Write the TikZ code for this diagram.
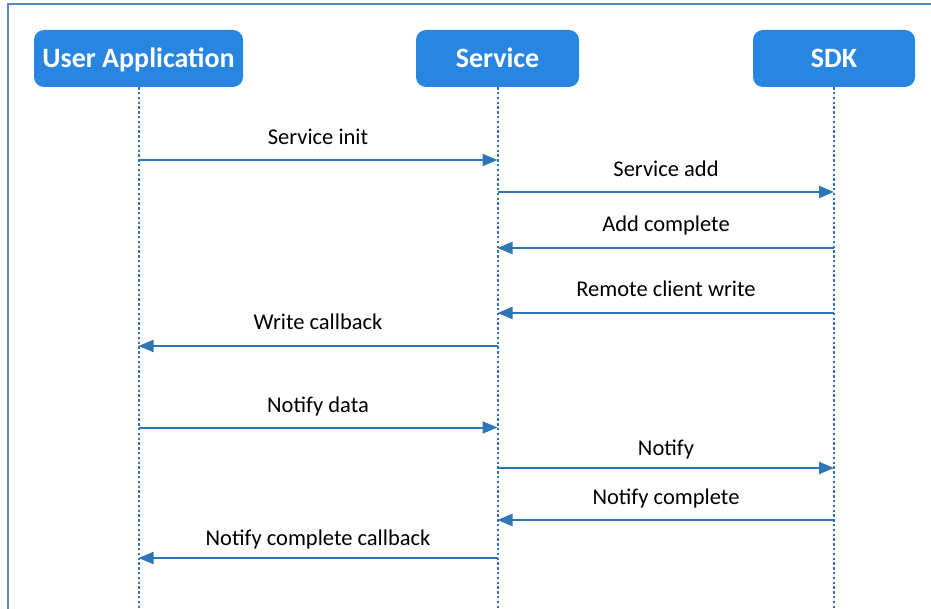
\documentclass[tikz,border=0pt]{standalone}
\usepackage{fontspec}
\setmainfont{Carlito}
\usetikzlibrary{arrows.meta}
\definecolor{boxblue}{HTML}{2986E0}
\definecolor{lineblue}{HTML}{2E75B6}
\definecolor{frameblue}{HTML}{5A8AC6}
\tikzset{
  actor/.style={fill=boxblue, draw=none, rounded corners=10pt, text=white,
    font=\fontsize{28}{30}\selectfont\bfseries, minimum height=57pt, inner sep=0pt,
    text height=19pt, text depth=0pt},
  lifeline/.style={draw=lineblue, line width=2pt, dash pattern=on 2.4pt off 2.4pt},
  msg/.style={draw=lineblue, line width=2pt, -{Triangle[length=15pt,width=12pt]}},
  lbl/.style={font=\fontsize{22.5}{26}\selectfont, anchor=base, inner sep=0pt, text=black}
}
\begin{document}
\begin{tikzpicture}[x=1pt,y=-1pt]
\useasboundingbox (0,0) rectangle (931,609);
\clip (0,0) rectangle (931,609);
\draw[frameblue, line width=1.5pt] (8,4) rectangle (960,640);

\node[actor, minimum width=209pt] (ua) at (138.5,58.5) {User Application};
\node[actor, minimum width=163pt] (sv) at (497.5,58.5) {Service};
\node[actor, minimum width=162pt] (sdk) at (834,58.5) {SDK};

\coordinate (uaEnd) at (ua.south |- 0,620);
\coordinate (svEnd) at (sv.south |- 0,620);
\coordinate (sdkEnd) at (sdk.south |- 0,620);
\draw[lifeline] (ua.south) -- (uaEnd);
\draw[lifeline] (sv.south) -- (svEnd);
\draw[lifeline] (sdk.south) -- (sdkEnd);

% messages
\draw[msg] (ua.south |- 0,160) -- (sv.south |- 0,160);
\node[lbl] (l1) at (318,145) {Service init};

\draw[msg] (sv.south |- 0,192) -- (sdk.south |- 0,192);
\node[lbl] (l2) at (666,177) {Service add};

\draw[msg] (sdk.south |- 0,248) -- (sv.south |- 0,248);
\node[lbl] (l3) at (666,232) {Add complete};

\draw[msg] (sdk.south |- 0,313) -- (sv.south |- 0,313);
\node[lbl] (l4) at (666,297) {Remote client write};

\draw[msg] (sv.south |- 0,346) -- (ua.south |- 0,346);
\node[lbl] (l5) at (318,330) {Write callback};

\draw[msg] (ua.south |- 0,427.5) -- (sv.south |- 0,427.5);
\node[lbl] (l6) at (318,412.5) {Notify data};

\draw[msg] (sv.south |- 0,468) -- (sdk.south |- 0,468);
\node[lbl] (l7) at (666,455) {Notify};

\draw[msg] (sdk.south |- 0,520) -- (sv.south |- 0,520);
\node[lbl] (l8) at (666,504) {Notify complete};

\draw[msg] (sv.south |- 0,558) -- (ua.south |- 0,558);
\node[lbl] (l9) at (318,545) {Notify complete callback};
\end{tikzpicture}
\end{document}
